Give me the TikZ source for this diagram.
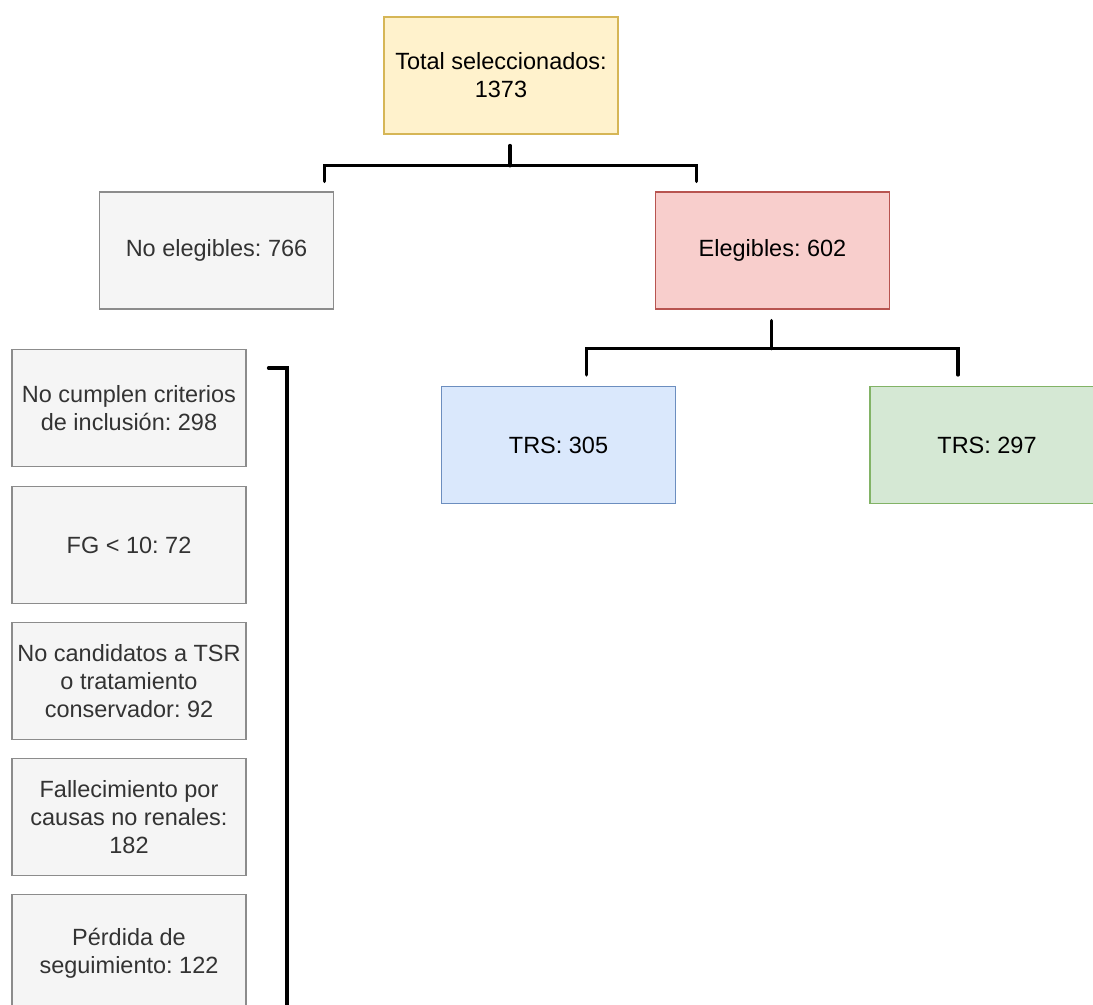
\documentclass[tikz,border=0pt]{standalone}
\usepackage{fontspec}
\setmainfont{Liberation Sans}
\usetikzlibrary{calc}
\frenchspacing
\definecolor{amarilloF}{HTML}{FFF2CC}\definecolor{amarilloB}{HTML}{D6B656}
\definecolor{rojoF}{HTML}{F8CECC}\definecolor{rojoB}{HTML}{B85450}
\definecolor{azulF}{HTML}{DAE8FC}\definecolor{azulB}{HTML}{6C8EBF}
\definecolor{verdeF}{HTML}{D5E8D4}\definecolor{verdeB}{HTML}{82B366}
\definecolor{grisF}{HTML}{F5F5F5}\definecolor{grisB}{HTML}{8C8C8C}
\definecolor{grisT}{HTML}{333333}
\begin{document}
\begin{tikzpicture}[x=0.025cm, y=-0.025cm, font=\fontsize{16.7}{20}\selectfont,
	caja/.style={draw, line width=0.9pt, minimum width=5.85cm, minimum height=2.925cm, align=center, inner sep=0pt},
	gris/.style={caja, fill=grisF, draw=grisB, text=grisT},
	corchete/.style={line width=2.6pt, line cap=round, line join=miter}]
	\useasboundingbox (0,0) rectangle (1093,1005);
	\node[caja, fill=amarilloF, draw=amarilloB] (total) at (501,75.5) {Total seleccionados:\\1373};
	\node[gris] (noeleg) at (216.5,250.5) {No elegibles: 766};
	\node[caja, fill=rojoF, draw=rojoB] (eleg) at (772.5,250.5) {Elegibles: 602};
	\node[caja, fill=azulF, draw=azulB] (trsa) at (558.5,445) {TRS: 305};
	\node[caja, fill=verdeF, draw=verdeB] (trsb) at (987,445) {TRS: 297};
	\node[gris] (crit) at (129,408) {No cumplen criterios\\de inclusión: 298};
	\node[gris] (fg) at (129,545) {FG < 10: 72};
	\node[gris] (cand) at (129,681) {No candidatos a TSR\\o tratamiento\\conservador: 92};
	\node[gris] (fall) at (129,817) {Fallecimiento por\\causas no renales:\\182};
	\node[gris] (perd) at (129,953) {Pérdida de\\seguimiento: 122};
	% corchetes
	\draw[corchete] ($(total.south)+(9,11)$) -- ($(total.south)+(9,31)$);
	\draw[corchete] ($(noeleg.north)+(108,-10)$) |- ($(total.south)+(9,31)$) -| ($(eleg.north)+(-76,-10)$);
	\draw[corchete] ($(eleg.south)+(-1,11)$) -- ($(eleg.south)+(-1,39)$);
	\draw[corchete] ($(trsa.north)+(28,-11)$) |- ($(eleg.south)+(-1,39)$) -| ($(trsb.north)+(-29,-11)$);
	\coordinate (fin) at (287,1012);
	\draw[corchete] ($(crit.north east)+(22,19)$) -| (fin);
\end{tikzpicture}
\end{document}
